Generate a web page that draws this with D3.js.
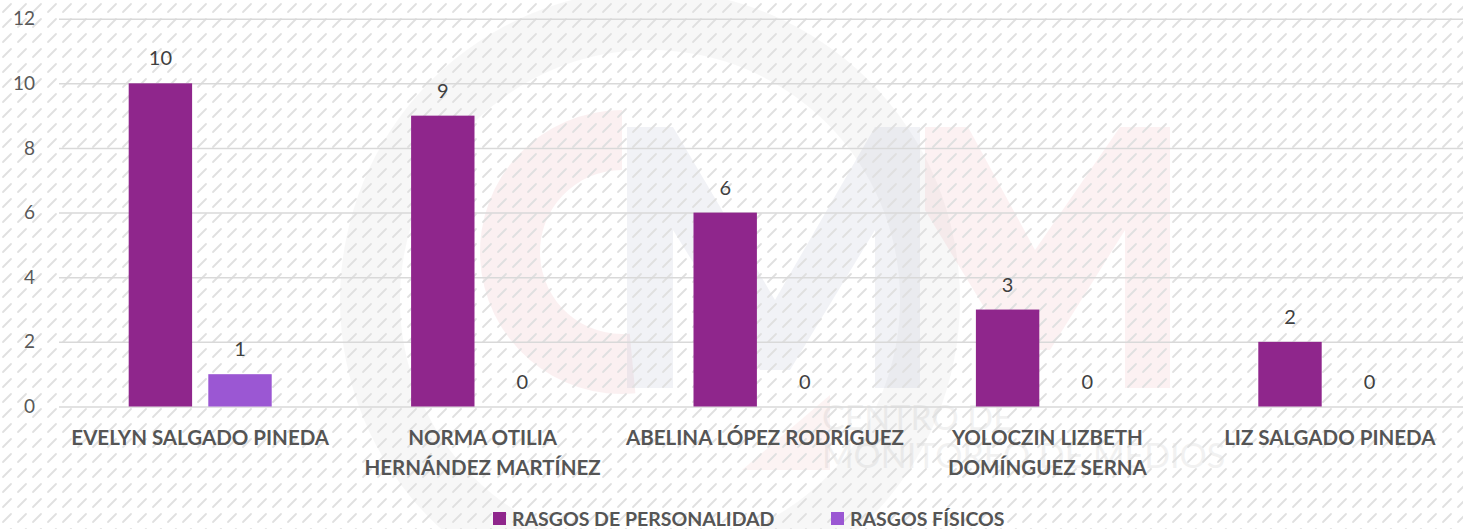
<!DOCTYPE html>
<html>
<head>
<meta charset="utf-8">
<script src="https://cdn.jsdelivr.net/npm/d3@7"></script>
<style>
  body { margin: 0; background: #fff; }
  svg { display: block; }
</style>
</head>
<body>
<svg id="chart" width="1463" height="529"></svg>
<script>
// datos
var categorias = [
  ["EVELYN SALGADO PINEDA"],
  ["NORMA OTILIA", "HERNÁNDEZ MARTÍNEZ"],
  ["ABELINA LÓPEZ RODRÍGUEZ"],
  ["YOLOCZIN LIZBETH", "DOMÍNGUEZ SERNA"],
  ["LIZ SALGADO PINEDA"]
];
var series = ["RASGOS DE PERSONALIDAD", "RASGOS FÍSICOS"];
var personalidad = [10, 9, 6, 3, 2];
var fisicos = [1, 0, 0, 0, 0];
var yTicks = [0, 2, 4, 6, 8, 10, 12];
var colores = ["#8f268c", "#9b57d3"];

var width = 1463, height = 529;
var svg = d3.select("#chart");
var font = "Lato, 'Open Sans', sans-serif";

// fondo rayado
var defs = svg.append("defs");
var pat = defs.append("pattern")
  .attr("id", "rayas")
  .attr("patternUnits", "userSpaceOnUse")
  .attr("width", 15).attr("height", 15);
pat.append("line")
  .attr("x1", 3).attr("y1", 12).attr("x2", 11).attr("y2", 4)
  .attr("stroke", "#e0e0e0").attr("stroke-width", 1.8)
  .attr("stroke-linecap", "round");

// marca de agua (logo tenue)
var wm = svg.append("g").attr("class", "watermark");
wm.append("path")
  .attr("transform", "translate(650,300)")
  .attr("d", d3.arc()({innerRadius: 250, outerRadius: 310, startAngle: 0, endAngle: 2 * Math.PI}))
  .attr("fill", "#000").attr("opacity", 0.03);
wm.append("path")
  .attr("transform", "translate(622,252)")
  .attr("d", d3.arc()({innerRadius: 82, outerRadius: 142, startAngle: Math.PI * 0.97, endAngle: Math.PI * 2.0}))
  .attr("fill", "#e8a0a8").attr("opacity", 0.16);
wm.append("path")
  .attr("d", "M627,127 L673,127 L775,300 L875,127 L920,127 L920,388 L875,388 L875,230 L790,370 L760,370 L673,230 L673,388 L627,388 Z")
  .attr("fill", "#a9aec6").attr("opacity", 0.16);
wm.append("path")
  .attr("d", "M925,127 L968,127 L1035,250 L1120,127 L1170,127 L1170,388 L1125,388 L1125,230 L1050,350 L1010,350 L925,210 Z")
  .attr("fill", "#eba9ad").attr("opacity", 0.16);
wm.append("path")
  .attr("d", "M830,395 L742,470 L830,470 Z")
  .attr("fill", "#eba9ad").attr("opacity", 0.14);
wm.append("text")
  .attr("x", 822).attr("y", 430)
  .attr("font-family", font).attr("font-size", 34).attr("fill", "#000").attr("opacity", 0.05)
  .text("CENTRO DE");
wm.append("text")
  .attr("x", 822).attr("y", 468)
  .attr("font-family", font).attr("font-size", 34).attr("fill", "#000").attr("opacity", 0.05)
  .text("MONITOREO DE MEDIOS");

svg.append("rect")
  .attr("width", width).attr("height", height)
  .attr("fill", "url(#rayas)");

// escalas
var x0 = d3.scaleBand()
  .domain(d3.range(categorias.length))
  .range([59, 1471])
  .paddingInner(0.4936)
  .paddingOuter(0.2468);
var x1 = d3.scaleBand()
  .domain(series)
  .range([0, x0.bandwidth()])
  .paddingInner(0.2035)
  .paddingOuter(0);
var y = d3.scaleLinear().domain([0, 12]).range([406.5, 18.7]);

// eje y + rejilla
var yAxis = svg.append("g")
  .attr("transform", "translate(59,0)")
  .call(d3.axisLeft(y).tickValues(yTicks).tickSize(-(width - 59)).tickPadding(24));
yAxis.select(".domain").remove();
yAxis.selectAll(".tick line").attr("stroke", "#d9d9d9").attr("stroke-width", 1.5);
yAxis.selectAll(".tick text")
  .attr("font-family", font).attr("font-size", 19).attr("fill", "#595959");

// barras
var datos = personalidad.map(function(v, i) {
  return [{serie: series[0], v: v, i: i}, {serie: series[1], v: fisicos[i], i: i}];
});
var grupos = svg.append("g").selectAll("g")
  .data(datos)
  .enter().append("g")
  .attr("transform", function(d, i) { return "translate(" + x0(i) + ",0)"; });

grupos.selectAll("rect")
  .data(function(d) { return d; })
  .enter().append("rect")
  .attr("x", function(d) { return x1(d.serie); })
  .attr("y", function(d) { return y(d.v); })
  .attr("width", x1.bandwidth())
  .attr("height", function(d) { return y(0) - y(d.v); })
  .attr("fill", function(d) { return colores[series.indexOf(d.serie)]; });

grupos.selectAll("text")
  .data(function(d) { return d; })
  .enter().append("text")
  .attr("x", function(d) { return x1(d.serie) + x1.bandwidth() / 2; })
  .attr("y", function(d) { return y(d.v) - 18; })
  .attr("text-anchor", "middle")
  .attr("font-family", font).attr("font-size", 20).attr("fill", "#404040")
  .text(function(d) { return d.v; });

// etiquetas de categoría
var etiquetas = svg.append("g").selectAll("text")
  .data(categorias)
  .enter().append("text")
  .attr("text-anchor", "middle")
  .attr("font-family", font).attr("font-size", 20.5).attr("font-weight", "bold").attr("fill", "#555")
  .attr("x", function(d, i) { return x0(i) + x0.bandwidth() / 2; })
  .attr("y", 445);
etiquetas.selectAll("tspan")
  .data(function(d) { return d; })
  .enter().append("tspan")
  .attr("x", function() { return this.parentNode.getAttribute("x"); })
  .attr("dy", function(d, j) { return j === 0 ? 0 : 30; })
  .text(function(d) { return d; });

// leyenda
var leyX = [493, 831];
var ley = svg.append("g").selectAll("g")
  .data(series)
  .enter().append("g")
  .attr("transform", function(d, i) { return "translate(" + leyX[i] + ",0)"; });
ley.append("rect")
  .attr("x", 0).attr("y", 512).attr("width", 13).attr("height", 13)
  .attr("fill", function(d, i) { return colores[i]; });
ley.append("text")
  .attr("x", 19).attr("y", 526)
  .attr("font-family", font).attr("font-size", 19.5).attr("font-weight", "bold").attr("fill", "#555")
  .text(function(d) { return d; });
</script>
</body>
</html>
